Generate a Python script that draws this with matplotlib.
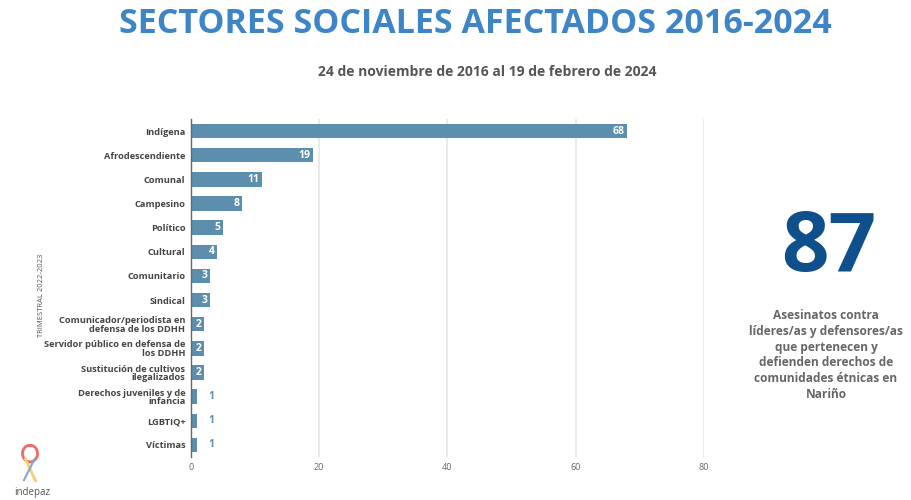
import matplotlib.pyplot as plt
import numpy as np

categorias = [
    "Indígena", "Afrodescendiente", "Comunal", "Campesino", "Político",
    "Cultural", "Comunitario", "Sindical",
    "Comunicador/periodista en\ndefensa de los DDHH",
    "Servidor público en defensa de\nlos DDHH",
    "Sustitución de cultivos\nilegalizados",
    "Derechos juveniles y de\ninfancia",
    "LGBTIQ+", "Víctimas",
]
valores = [68, 19, 11, 8, 5, 4, 3, 3, 2, 2, 2, 1, 1, 1]
ticks_x = [0, 20, 40, 60, 80]

total = "87"
descripcion = ("Asesinatos contra\nlíderes/as y defensores/as\nque pertenecen y\n"
               "defienden derechos de\ncomunidades étnicas en\nNariño")
titulo = "SECTORES SOCIALES AFECTADOS 2016-2024"
subtitulo = "24 de noviembre de 2016 al 19 de febrero de 2024"
eje_y = "TRIMESTRAL 2022-2023"

plt.rcParams['font.family'] = ['Open Sans', 'DejaVu Sans']
color_barra = '#5b8fad'

fig = plt.figure(figsize=(9.12, 5.0), dpi=100)
ax = fig.add_axes([191 / 912, 1 - 457 / 500, 513 / 912, 338 / 500])

y = np.arange(len(categorias))
ax.barh(y, valores, height=0.6, color=color_barra, zorder=3)
ax.set_ylim(len(categorias) - 0.5, -0.5)
ax.set_xlim(0, 80)
ax.set_xticks(ticks_x)
ax.set_xticklabels([str(t) for t in ticks_x], fontsize=6.5, color='#666666')
ax.set_yticks(y)
ax.set_yticklabels(categorias, fontsize=6.7, color='#444444', fontweight='bold',
                   linespacing=0.95)
ax.tick_params(axis='both', length=0, pad=4)
ax.grid(axis='x', color='#e6e6e6', linewidth=1.2, zorder=0)
for s in ['top', 'right', 'bottom']:
    ax.spines[s].set_visible(False)
ax.spines['left'].set_color('#666666')
ax.spines['left'].set_linewidth(1.0)
ax.spines['left'].set_zorder(4)

for yi, v in zip(y, valores):
    if v >= 2:
        ax.text(v - 0.35, yi, str(v), ha='right', va='center', fontsize=7.5,
                fontweight='bold', color='white', zorder=5)
    else:
        ax.text(v + 1.7, yi, str(v), ha='left', va='center', fontsize=7.5,
                fontweight='bold', color=color_barra, zorder=5)

fig.text(42 / 912, 1 - 295 / 500, eje_y, rotation=90, ha='center', va='center',
         fontsize=5.5, color='#555555')

fig.text(475 / 912, 1 - 24 / 500, titulo, ha='center', va='center', fontsize=24.5,
         fontweight='bold', color='#3d85c6')
fig.text(487 / 912, 1 - 72 / 500, subtitulo, ha='center', va='center', fontsize=10,
         fontweight='bold', color='#555555')

fig.text(829 / 912, 1 - 250 / 500, total, ha='center', va='center', fontsize=60,
         fontweight='bold', color='#0e4f8c')
fig.text(826 / 912, 1 - 355 / 500, descripcion, ha='center', va='center', fontsize=8.6,
         fontweight='bold', color='#666666', linespacing=1.28)

# logo sencillo
fig.text(32 / 912, 1 - 492 / 500, "indepaz", ha='center', va='center', fontsize=7,
         color='#555555')
lx = fig.add_axes([15 / 912, 1 - 482 / 500, 30 / 912, 38 / 500])
lx.axis('off')
t = np.linspace(0, 2 * np.pi, 100)
lx.plot(0.5 + 0.25 * np.sin(t), 0.75 + 0.22 * np.cos(t), color='#f06a6a', lw=2)
lx.plot([0.35, 0.7], [0.6, 0.0], color='#f2d06b', lw=2)
lx.plot([0.65, 0.3], [0.6, 0.05], color='#7fa6d6', lw=1.5)
lx.set_xlim(0, 1)
lx.set_ylim(0, 1)

fig.savefig('out.png', dpi=100)
